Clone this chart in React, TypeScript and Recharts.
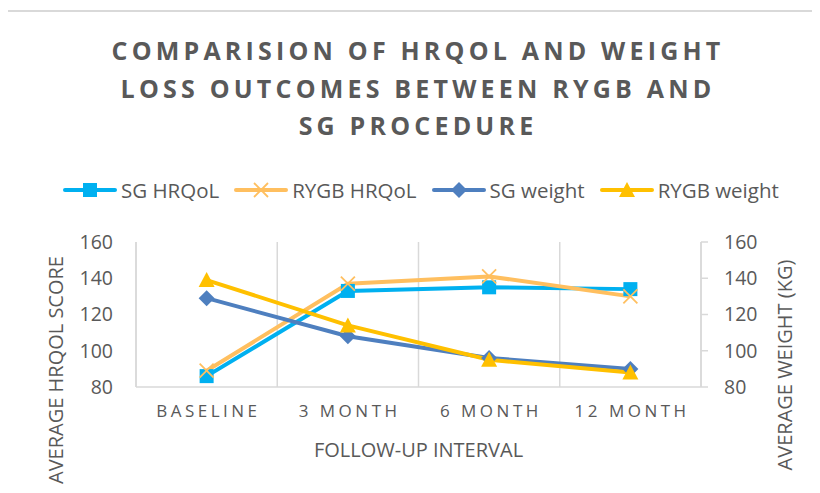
import React from "react";
import {
  LineChart,
  Line,
  XAxis,
  YAxis,
  CartesianGrid,
  Legend,
  Label,
} from "recharts";

const intervals = ["BASELINE", "3 MONTH", "6 MONTH", "12 MONTH"];
const sgHrqol = [86, 133, 135, 134];
const rygbHrqol = [89, 137, 141, 130];
const sgWeight = [129, 108, 96, 90];
const rygbWeight = [139, 114, 95, 88];
const axisTicks = [80, 100, 120, 140, 160];

const TEXT = "#595959";
const GRID = "#D9D9D9";
const FONT = "'Open Sans', 'DejaVu Sans', sans-serif";

type Shape = "square" | "cross" | "diamond" | "triangle";

const series: { key: string; name: string; color: string; shape: Shape; axis: string }[] = [
  { key: "sgHrqol", name: "SG HRQoL", color: "#00B0F0", shape: "square", axis: "left" },
  { key: "rygbHrqol", name: "RYGB HRQoL", color: "#FFBF5F", shape: "cross", axis: "left" },
  { key: "sgWeight", name: "SG weight", color: "#4E7FBF", shape: "diamond", axis: "right" },
  { key: "rygbWeight", name: "RYGB weight", color: "#FFC000", shape: "triangle", axis: "right" },
];

const data = intervals.map((interval, i) => ({
  interval,
  sgHrqol: sgHrqol[i],
  rygbHrqol: rygbHrqol[i],
  sgWeight: sgWeight[i],
  rygbWeight: rygbWeight[i],
}));

function marker(shape: Shape, color: string, cx: number, cy: number) {
  switch (shape) {
    case "square":
      return <rect x={cx - 7} y={cy - 7} width={14} height={14} fill={color} />;
    case "cross":
      return (
        <g stroke={color} strokeWidth={1.8}>
          <line x1={cx - 7} y1={cy - 7} x2={cx + 7} y2={cy + 7} />
          <line x1={cx - 7} y1={cy + 7} x2={cx + 7} y2={cy - 7} />
        </g>
      );
    case "diamond":
      return <polygon points={`${cx},${cy - 8} ${cx + 8},${cy} ${cx},${cy + 8} ${cx - 8},${cy}`} fill={color} />;
    default:
      return <polygon points={`${cx},${cy - 8} ${cx + 8},${cy + 7} ${cx - 8},${cy + 7}`} fill={color} />;
  }
}

const makeDot = (shape: Shape, color: string) => (props: any) => {
  const { cx, cy, index } = props;
  if (cx == null || cy == null) return <g key={`d-${index}`} />;
  return <g key={`d-${index}`}>{marker(shape, color, cx, cy)}</g>;
};

function renderLegend() {
  return (
    <div style={{ display: "flex", paddingLeft: 63, gap: 15, fontFamily: FONT, fontSize: 20.5, color: TEXT }}>
      {series.map((s) => (
        <div key={s.key} style={{ display: "flex", alignItems: "center" }}>
          <svg width={54} height={24}>
            <line x1={2} y1={12} x2={52} y2={12} stroke={s.color} strokeWidth={4} strokeLinecap="round" />
            {marker(s.shape, s.color, 27, 12)}
          </svg>
          <span style={{ marginLeft: 4, lineHeight: "24px" }}>{s.name}</span>
        </div>
      ))}
    </div>
  );
}

const XTick = (props: any) => {
  const { x, y, payload } = props;
  return (
    <text
      x={x + 1.75}
      y={y}
      dy="0.71em"
      textAnchor="middle"
      fill={TEXT}
      fontSize={17}
      letterSpacing={3.5}
      fontFamily={FONT}
    >
      {payload.value}
    </text>
  );
};

export default function App() {
  const half = 565 / intervals.length / 2;
  return (
    <div style={{ position: "relative", width: 820, height: 493, margin: -8, background: "#fff", fontFamily: FONT, overflow: "hidden" }}>
      <div
        style={{
          position: "absolute",
          left: 6,
          top: 10,
          width: 820,
          height: 500,
          borderLeft: `2px solid ${GRID}`,
          borderTop: `2px solid ${GRID}`,
        }}
      />
      <div style={{ position: "absolute", left: 0, top: 0 }}>
        <LineChart width={820} height={493} data={data} margin={{ top: 242, right: 0, left: 0, bottom: 66 }}>
          <CartesianGrid
            horizontal={false}
            stroke={GRID}
            strokeWidth={1.5}
            verticalCoordinatesGenerator={({ offset }: any) =>
              [0, 1, 2, 3, 4].map((i) => offset.left + (i * offset.width) / intervals.length)
            }
          />
          <XAxis
            dataKey="interval"
            height={40}
            padding={{ left: half, right: half }}
            axisLine={{ stroke: GRID, strokeWidth: 1.5 }}
            tickLine={false}
            tickSize={0}
            tickMargin={18}
            tick={<XTick />}
          >
            <Label
              content={({ viewBox }: any) => (
                <text
                  x={viewBox.x + viewBox.width / 2}
                  y={viewBox.y + 70}
                  textAnchor="middle"
                  fill={TEXT}
                  fontSize={20}
                  fontFamily={FONT}
                >
                  FOLLOW-UP INTERVAL
                </text>
              )}
            />
          </XAxis>
          <YAxis
            yAxisId="left"
            width={136}
            domain={[80, 160]}
            ticks={axisTicks}
            axisLine={{ stroke: GRID, strokeWidth: 1.5 }}
            tickLine={false}
            tickSize={0}
            tickMargin={23}
            tick={{ fill: TEXT, fontSize: 19.5, fontFamily: FONT }}
          >
            <Label
              content={({ viewBox }: any) => {
                const x = viewBox.x + 63;
                const y = viewBox.y + 128;
                return (
                  <text x={x} y={y} transform={`rotate(-90, ${x}, ${y})`} textAnchor="middle" fill={TEXT} fontSize={20} fontFamily={FONT}>
                    AVERAGE HRQOL SCORE
                  </text>
                );
              }}
            />
          </YAxis>
          <YAxis
            yAxisId="right"
            orientation="right"
            width={119}
            domain={[80, 160]}
            ticks={axisTicks}
            axisLine={{ stroke: GRID, strokeWidth: 1.5 }}
            tickLine={{ stroke: GRID, strokeWidth: 1.5 }}
            tickSize={7}
            tickMargin={16}
            tick={{ fill: TEXT, fontSize: 19.5, fontFamily: FONT }}
          >
            <Label
              content={({ viewBox }: any) => {
                const x = viewBox.x + 91;
                const y = viewBox.y + 123;
                return (
                  <text x={x} y={y} transform={`rotate(-90, ${x}, ${y})`} textAnchor="middle" fill={TEXT} fontSize={20} fontFamily={FONT}>
                    AVERAGE WEIGHT (KG)
                  </text>
                );
              }}
            />
          </YAxis>
          <Legend
            layout="horizontal"
            verticalAlign="middle"
            align="center"
            content={renderLegend}
            wrapperStyle={{ position: "absolute", top: 178, left: 0, width: 820 }}
          />
          {series.map((s) => (
            <Line
              key={s.key}
              yAxisId={s.axis}
              type="linear"
              dataKey={s.key}
              name={s.name}
              stroke={s.color}
              strokeWidth={4}
              strokeLinejoin="round"
              dot={makeDot(s.shape, s.color)}
              activeDot={false}
              isAnimationActive={false}
            />
          ))}
        </LineChart>
      </div>
      <div
        style={{
          position: "absolute",
          left: 0,
          top: 32,
          width: 836,
          textAlign: "center",
          fontSize: 25,
          fontWeight: 700,
          letterSpacing: 4.2,
          lineHeight: "37.5px",
          color: TEXT,
          pointerEvents: "none",
        }}
      >
        <div>COMPARISION OF HRQOL AND WEIGHT</div>
        <div>LOSS OUTCOMES BETWEEN RYGB AND</div>
        <div>SG PROCEDURE</div>
      </div>
    </div>
  );
}
